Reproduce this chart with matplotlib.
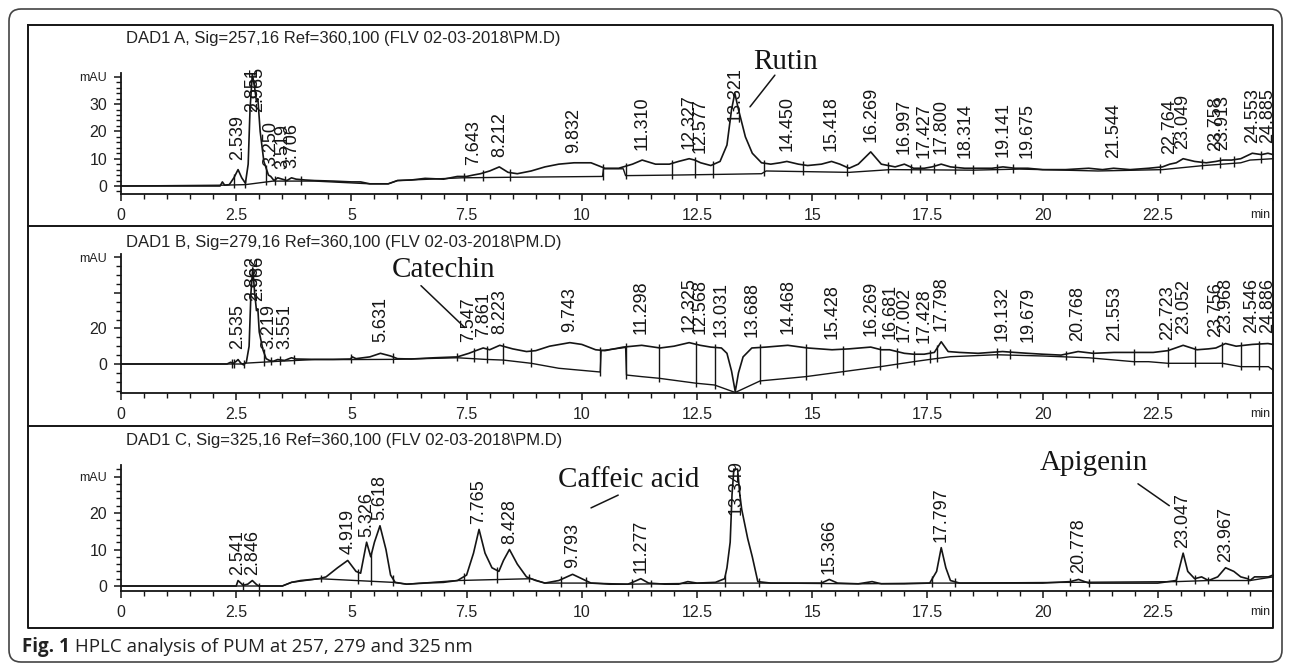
import numpy as np
import matplotlib
matplotlib.use('Agg')
import matplotlib.pyplot as plt
from matplotlib import font_manager as fm
from matplotlib.patches import FancyBboxPatch
from matplotlib.ticker import MultipleLocator, FixedLocator, FixedFormatter, FuncFormatter


# chromatogram traces: (time in min, mAU)

# DAD1 A, 257 nm
sig_a = np.array([(0, 0), (2.15, 0), (2.2, 1.5), (2.25, 0.3), (2.35, 0.5), (2.45, 3), (2.54, 6), (2.62, 3),
                  (2.7, 1), (2.76, 8), (2.8, 28), (2.85, 41), (2.9, 36), (2.94, 31), (2.97, 32), (3.02, 20),
                  (3.1, 9), (3.2, 4), (3.25, 3.5), (3.32, 2), (3.4, 3), (3.5, 2.5), (3.6, 2), (3.7, 3),
                  (3.8, 2.5), (4.0, 2.2), (4.2, 2), (4.6, 1.8), (5.0, 1.5), (5.2, 1.5), (5.4, 0.8), (5.8, 0.8),
                  (6.0, 2), (6.3, 2.2), (6.6, 2.8), (7.0, 2.5), (7.3, 3.5), (7.5, 3.5), (7.64, 4), (7.8, 4.5),
                  (8.0, 5.5), (8.21, 7), (8.4, 5), (8.6, 4.5), (8.9, 5.5), (9.2, 7), (9.5, 8), (9.83, 8.5),
                  (10.2, 8.5), (10.5, 6.5), (10.8, 6.5), (11.1, 8), (11.31, 9.5), (11.6, 8), (11.9, 8),
                  (12.1, 9), (12.33, 10), (12.45, 9.5), (12.58, 8.5), (12.8, 7.5), (13.0, 9), (13.15, 15),
                  (13.25, 28), (13.32, 34), (13.4, 28), (13.55, 18), (13.7, 12), (13.9, 8.5), (14.1, 8),
                  (14.3, 8.5), (14.45, 9), (14.7, 8), (14.9, 7.5), (15.2, 8), (15.42, 9), (15.6, 8), (15.8, 6.5),
                  (16.0, 8), (16.27, 12.5), (16.5, 8), (16.8, 7), (17.0, 8), (17.2, 6.5), (17.43, 6.5), (17.6, 7),
                  (17.8, 8), (18.0, 7), (18.31, 6.5), (18.6, 6.5), (18.9, 6.5), (19.14, 7), (19.4, 6.5),
                  (19.68, 6.5), (20.0, 6), (20.5, 6), (21.0, 6.5), (21.3, 6), (21.54, 6.5), (21.9, 6), (22.3, 6.5),
                  (22.6, 7), (22.76, 8), (22.9, 8.5), (23.05, 10), (23.3, 9), (23.55, 8.5), (23.76, 9),
                  (23.91, 9.5), (24.1, 9.5), (24.3, 10), (24.55, 12), (24.75, 11.5), (24.89, 12), (25.0, 11.5)])
base_a = np.array([(0, 0), (2.2, 0.3), (2.7, 0.5), (3.3, 1.8), (4.2, 1.8), (5.4, 0.8), (5.8, 0.8), (6.0, 2),
                   (7.4, 3), (8.45, 3.2), (10.45, 3.5), (10.47, 6.3), (10.9, 6.3), (10.95, 3.8), (12.0, 4),
                   (13.9, 4.5), (14.0, 5.5), (15.8, 5), (16.7, 6), (18.5, 5.8), (19.5, 6.2), (21.2, 5.5),
                   (22.6, 6), (23.5, 7.5), (24.3, 8.5), (24.5, 9.5), (25.0, 10)])
drops_a = [2.45, 2.7, 3.15, 3.35, 3.55, 3.9, 7.45, 7.85, 8.45, 10.45, 10.95, 11.95, 12.45, 12.85, 13.95,
           14.8, 15.75, 16.65, 17.15, 17.35, 17.65, 18.1, 18.5, 19.0, 19.35, 22.55, 23.45, 23.85, 24.15, 24.75]
rt_a = ['2.539', '2.851', '2.965', '3.250', '3.519', '3.706', '7.643', '8.212', '9.832', '11.310', '12.327',
        '12.577', '13.321', '14.450', '15.418', '16.269', '16.997', '17.427', '17.800', '18.314', '19.141',
        '19.675', '21.544', '22.764', '23.049', '23.758', '23.913', '24.553', '24.885']

# DAD1 B, 279 nm
sig_b = np.array([(0, 0), (2.3, 0), (2.38, 1), (2.43, 0.3), (2.5, 1.5), (2.54, 2.5), (2.6, 0.5), (2.66, -0.5),
                  (2.72, 1), (2.78, 10), (2.82, 40), (2.86, 54), (2.9, 40), (2.94, 30), (2.97, 31), (3.0, 18),
                  (3.08, 8), (3.15, 3), (3.22, 2), (3.3, 1.5), (3.4, 2.5), (3.55, 2), (3.7, 3.5), (3.8, 2.8),
                  (4.2, 2.6), (4.6, 2.6), (4.98, 2.8), (5.02, 4), (5.1, 3), (5.4, 4), (5.63, 6), (5.85, 4.5),
                  (6.0, 3), (6.3, 2.8), (6.8, 3.5), (7.3, 4), (7.55, 6), (7.7, 7.5), (7.86, 9), (8.0, 8),
                  (8.22, 10.5), (8.5, 8.5), (8.8, 7), (9.0, 7.5), (9.3, 10), (9.74, 12), (10.0, 11), (10.3, 8),
                  (10.5, 7.5), (10.9, 9.5), (11.3, 10.5), (11.7, 9), (12.0, 10), (12.33, 12), (12.57, 10.5),
                  (12.8, 9.5), (13.03, 9), (13.15, 6), (13.25, -4), (13.33, -15.5), (13.4, -5), (13.5, 4),
                  (13.69, 9), (14.0, 9.5), (14.47, 10.5), (14.9, 9), (15.43, 8), (15.8, 8.5), (16.27, 9.5),
                  (16.5, 8), (16.68, 8), (17.0, 6), (17.2, 5.5), (17.43, 5.5), (17.65, 6.5), (17.8, 12.5),
                  (17.95, 7), (18.2, 6.5), (18.6, 6), (19.13, 7), (19.4, 6.5), (19.68, 6), (20.0, 5.5),
                  (20.4, 5), (20.77, 7), (21.1, 6), (21.55, 6.5), (22.0, 6.5), (22.4, 6.5), (22.72, 7.5),
                  (23.05, 10.5), (23.35, 8), (23.6, 8.5), (23.76, 9), (23.97, 11.5), (24.2, 10), (24.55, 11),
                  (24.89, 11.5), (25.0, 11)])
base_b = np.array([(0, 0), (2.6, 0), (2.72, 0.5), (3.4, 1.5), (4.2, 2.5), (5.0, 2.5), (5.9, 2.6), (7.3, 3.5),
                   (7.9, 2.6), (8.3, 2.2), (8.9, 0.4), (9.5, -2.4), (10.4, -4.5), (10.42, 7.5), (10.95, 9.3),
                   (10.97, -6.2), (11.3, -7.1), (11.67, -8), (12.48, -10.8), (12.88, -11.8), (13.33, -16),
                   (13.87, -9.5), (14.86, -7.1), (15.67, -4.3), (16.48, -1.5), (17.2, 1.3), (17.56, 2.6),
                   (18.0, 4.1), (19.0, 5.2), (20.0, 4.5), (21.0, 3.5), (21.98, 1.3), (22.3, 1.3), (22.72, 0.4),
                   (23.3, 0.4), (23.9, 0.4), (24.3, -1.5), (24.9, -1.5), (25.0, -3.4)])
drops_b = [2.4, 2.45, 2.66, 3.1, 3.25, 3.45, 3.75, 5.0, 5.9, 7.3, 7.65, 7.95, 8.3, 8.9, 10.4, 10.97, 11.67,
           12.48, 12.88, 13.87, 14.86, 15.67, 16.48, 16.84, 17.2, 17.56, 17.7, 19.0, 19.3, 20.5, 21.1, 21.98,
           22.72, 23.3, 23.9, 24.3, 24.7]
rt_b = ['2.535', '2.862', '2.966', '3.219', '3.551', '5.631', '7.547', '7.861', '8.223', '9.743', '11.298',
        '12.325', '12.568', '13.031', '13.688', '14.468', '15.428', '16.269', '16.681', '17.002', '17.428',
        '17.798', '19.132', '19.679', '20.768', '21.553', '22.723', '23.052', '23.756', '23.968', '24.546',
        '24.886']

# DAD1 C, 325 nm
sig_c = np.array([(0, 0), (2.5, 0), (2.54, 1.5), (2.65, 0.2), (2.75, 0.5), (2.85, 1.5), (2.95, 0.3), (3.0, 0),
                  (3.5, 0), (3.7, 1), (3.9, 1.5), (4.3, 2), (4.45, 2.5), (4.7, 5), (4.92, 7), (5.1, 4),
                  (5.2, 3.5), (5.33, 12), (5.42, 8), (5.5, 12), (5.62, 16.5), (5.75, 10), (5.85, 3), (5.95, 1),
                  (6.2, 0.5), (6.6, 0.8), (7.0, 1), (7.3, 1.5), (7.5, 3), (7.65, 9), (7.77, 15.5), (7.9, 9),
                  (8.05, 5), (8.2, 4), (8.3, 7), (8.43, 10), (8.6, 6), (8.8, 2.5), (9.0, 1.5), (9.2, 0.8),
                  (9.5, 1.5), (9.8, 3.2), (10.0, 2), (10.2, 0.8), (10.6, 0.5), (11.0, 0.5), (11.1, 1),
                  (11.28, 2), (11.45, 0.8), (11.8, 0.5), (12.1, 0.5), (12.3, 1.2), (12.5, 0.8), (12.9, 1),
                  (13.1, 2), (13.15, 5), (13.22, 12), (13.26, 25), (13.3, 32), (13.38, 32), (13.43, 25),
                  (13.47, 21), (13.6, 13), (13.7, 8), (13.82, 1.2), (14.1, 0.8), (14.6, 0.8), (15.2, 0.8),
                  (15.37, 1.8), (15.55, 0.8), (16.0, 0.6), (16.3, 1.2), (16.5, 0.6), (17.0, 0.6), (17.55, 0.8),
                  (17.7, 4), (17.8, 10.5), (17.9, 5), (18.0, 1.5), (18.2, 0.8), (19.0, 0.8), (20.0, 0.8),
                  (20.6, 1.2), (20.78, 1.8), (21.0, 0.8), (21.5, 0.8), (22.5, 0.8), (22.9, 1.5), (23.05, 9),
                  (23.15, 4), (23.3, 2), (23.45, 2.5), (23.6, 1.5), (23.8, 2.5), (23.97, 5), (24.15, 4),
                  (24.3, 2.5), (24.45, 2), (24.5, 1.5), (24.6, 2.5), (24.9, 2.5), (25.0, 3)])
base_c = np.array([(0, 0), (3.5, 0), (3.7, 1), (4.3, 2), (5.9, 1), (6.2, 0.5), (7.3, 1.5), (8.9, 2), (9.2, 0.8),
                   (10.2, 0.8), (11.0, 0.5), (12.9, 0.8), (14.1, 0.8), (16.0, 0.6), (17.55, 0.8), (18.2, 0.8),
                   (22.9, 1.2), (23.6, 1.5), (24.5, 1.5), (25.0, 2.5)])
drops_c = [2.65, 3.0, 4.35, 5.15, 5.42, 5.9, 7.45, 8.15, 8.85, 9.55, 10.1, 11.1, 11.5, 13.1, 13.85, 15.2,
           17.6, 18.1, 20.6, 21.0, 22.9, 23.3, 23.6, 24.45]
rt_c = ['2.541', '2.846', '4.919', '5.326', '5.618', '7.765', '8.428', '9.793', '11.277', '13.349', '15.366',
        '17.797', '20.778', '23.047', '23.967']

titles = ['DAD1 A, Sig=257,16 Ref=360,100 (FLV 02-03-2018\\PM.D)',
          'DAD1 B, Sig=279,16 Ref=360,100 (FLV 02-03-2018\\PM.D)',
          'DAD1 C, Sig=325,16 Ref=360,100 (FLV 02-03-2018\\PM.D)']
yticks_a = [0, 10, 20, 30, 40]
ylabels_a = ['0', '10', '20', '30', 'mAU']
yticks_b = [0, 20, 40, 60]
ylabels_b = ['0', '20', '', 'mAU']
yticks_c = [0, 10, 20, 30]
ylabels_c = ['0', '10', '20', 'mAU']
caption_bold = 'Fig. 1'
caption_text = ' HPLC analysis of PUM at 257, 279 and 325\u2009nm'


def has_font(name):
    try:
        fm.findfont(fm.FontProperties(family=name), fallback_to_default=False)
        return True
    except ValueError:
        return False


if has_font('Liberation Sans Narrow'):
    RT_FONT, RT_SIZE = 'Liberation Sans Narrow', 15.5
else:
    RT_FONT, RT_SIZE = 'Liberation Sans', 13
SANS = 'Liberation Sans'
SERIF = 'Liberation Serif'
INK = '#151515'

W, H = 1292, 672
fig = plt.figure(figsize=(W / 100, H / 100), dpi=100)

# background axes in pixel units for frames, titles and caption
bg = fig.add_axes([0, 0, 1, 1])
bg.set_xlim(0, W)
bg.set_ylim(H, 0)
bg.axis('off')
bg.add_patch(FancyBboxPatch((9, 9), W - 19, H - 19, boxstyle='round,pad=0,rounding_size=12',
                            fill=False, ec='#444444', lw=1.2))
bg.plot([28, 1273, 1273, 28, 28], [25, 25, 628, 628, 25], color=INK, lw=1.4)
bg.plot([28, 1273], [226, 226], color=INK, lw=1.4)
bg.plot([28, 1273], [426, 426], color=INK, lw=1.4)

t1 = bg.text(22, 647, caption_bold, fontsize=13.5, fontweight='bold', family='Open Sans',
             va='center', ha='left', color='#222222')
bg.annotate(caption_text, xy=(1, 0.5), xycoords=t1, va='center', ha='left', fontsize=13.5,
            family='Open Sans', color='#222222')

LEFT, RIGHT = 121, 1273


def panel(title, title_y, sig, base, drops, rts, yticks, ylabels, top, bottom, zero, ppm,
          minor, cap, off):
    ax = fig.add_axes([LEFT / W, 1 - bottom / H, (RIGHT - LEFT) / W, (bottom - top) / H])
    ax.set_xlim(0, 25)
    ax.set_ylim((zero - bottom) / ppm, (zero - top) / ppm)
    ax.patch.set_visible(False)
    for sp in ('top', 'right'):
        ax.spines[sp].set_visible(False)
    for sp in ('left', 'bottom'):
        ax.spines[sp].set_linewidth(1.3)
        ax.spines[sp].set_color(INK)

    ax.xaxis.set_major_locator(MultipleLocator(2.5))
    ax.xaxis.set_minor_locator(MultipleLocator(0.5))
    ax.xaxis.set_major_formatter(FuncFormatter(lambda v, p: '' if v > 24 else f'{v:g}'))
    ax.yaxis.set_major_locator(FixedLocator(yticks))
    ax.yaxis.set_major_formatter(FixedFormatter(ylabels))
    ax.yaxis.set_minor_locator(MultipleLocator(minor))
    ax.tick_params(which='major', length=5, width=1.1, color=INK, labelsize=11.5, labelcolor='#222222', pad=5)
    ax.tick_params(which='minor', length=3.5, width=1.0, color=INK)
    for lab in ax.get_xticklabels() + ax.get_yticklabels():
        lab.set_family(SANS)
    for lab in ax.get_yticklabels():
        if lab.get_text() == 'mAU':
            lab.set_fontsize(9)
    ax.annotate('min', xy=(1, 0), xycoords='axes fraction', xytext=(-2, -15), textcoords='offset points',
                ha='right', va='center', fontsize=9, family=SANS, color='#222222')

    t, s = sig[:, 0], sig[:, 1]
    bt, bs = base[:, 0], base[:, 1]
    ax.plot(t, s, color=INK, lw=1.2, clip_on=False, zorder=3)
    ax.plot(bt, bs, color=INK, lw=1.0, clip_on=False, zorder=3)
    ext = 3.5 / ppm
    for x in drops:
        ys = np.interp(x, t, s)
        yb = np.interp(x, bt, bs)
        ax.vlines(x, min(ys, yb) - ext, max(ys, yb) + ext, color=INK, lw=1.0, zorder=3)

    char_px = RT_SIZE * 100 / 72 * (0.456 if 'Narrow' in RT_FONT else 0.556)
    for lbl in rts:
        x = float(lbl)
        ys = np.interp(x, t, s) + off / ppm
        length = (len(lbl) - 1) * char_px + char_px * 0.5
        ys = min(ys, cap - length / ppm)
        ax.text(x, ys, lbl, rotation=90, ha='center', va='bottom', fontsize=RT_SIZE,
                family=RT_FONT, color=INK, zorder=4, clip_on=False)

    bg.text(126, title_y, title, fontsize=12, family=SANS, ha='left', va='center', color='#222222')
    return ax


ax_a = panel(titles[0], 39, sig_a, base_a, drops_a, rt_a, yticks_a, ylabels_a,
             top=73, bottom=194, zero=186, ppm=2.73, minor=2, cap=43.5, off=10)
ax_b = panel(titles[1], 242, sig_b, base_b, drops_b, rt_b, yticks_b, ylabels_b,
             top=254, bottom=393, zero=364, ppm=1.78, minor=5, cap=61, off=11)
ax_c = panel(titles[2], 441, sig_c, base_c, drops_c, rt_c, yticks_c, ylabels_c,
             top=465, bottom=591, zero=586, ppm=3.65, minor=2, cap=34.5, off=6)

# compound annotations
line_kw = dict(arrowprops=dict(arrowstyle='-', color=INK, lw=1.1, shrinkA=0, shrinkB=0))
ax_a.text(13.72, 43, 'Rutin', family=SERIF, fontsize=21, ha='left', va='baseline', color=INK, clip_on=False)
ax_a.annotate('', xy=(13.65, 29), xytext=(14.19, 40.6), **line_kw)
ax_b.text(5.88, 49, 'Catechin', family=SERIF, fontsize=21, ha='left', va='baseline', color=INK, clip_on=False)
ax_b.annotate('', xy=(7.46, 20.5), xytext=(6.51, 44), **line_kw)
ax_c.text(9.48, 27, 'Caffeic acid', family=SERIF, fontsize=21, ha='left', va='baseline', color=INK,
          clip_on=False)
ax_c.annotate('', xy=(10.2, 21.4), xytext=(10.79, 24.9), **line_kw)
ax_c.text(19.94, 31.8, 'Apigenin', family=SERIF, fontsize=21, ha='left', va='baseline', color=INK,
          clip_on=False)
ax_c.annotate('', xy=(22.75, 22), xytext=(22.07, 28), **line_kw)

fig.savefig('out.png', dpi=100)
